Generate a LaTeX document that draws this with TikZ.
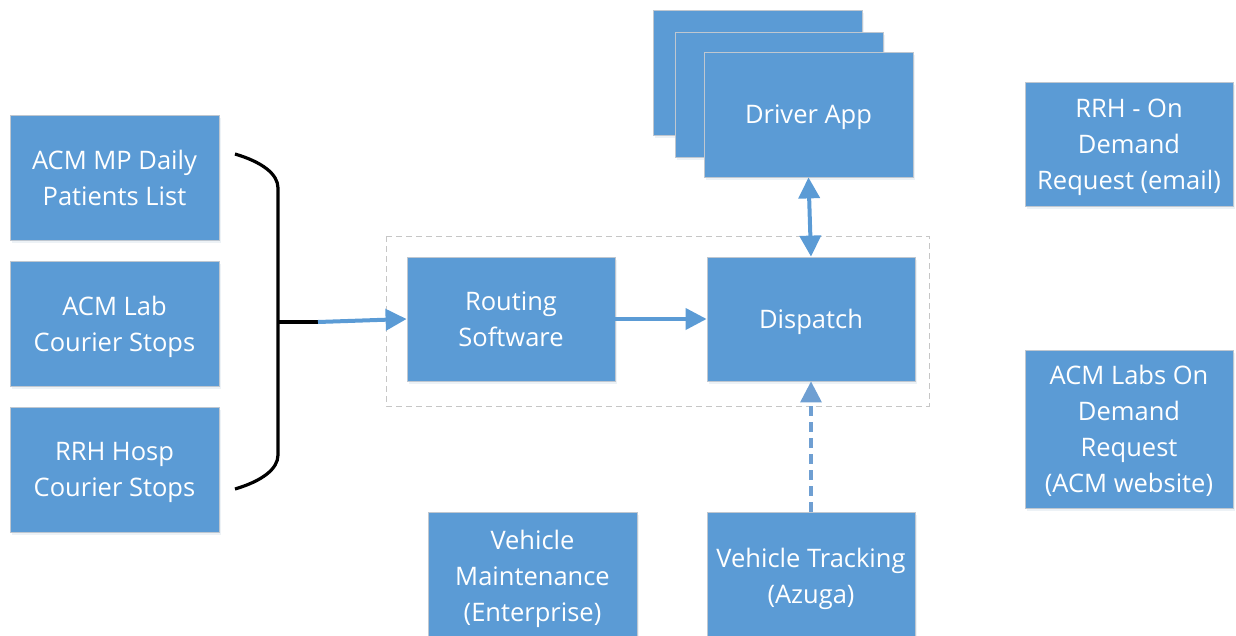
\documentclass[tikz,border=0pt]{standalone}
\usepackage{fontspec}
\setmainfont{Open Sans}
\usetikzlibrary{arrows.meta,shadows}
\definecolor{boxblue}{HTML}{5B9BD5}
\definecolor{boxedge}{HTML}{BFC7D0}
\definecolor{dashblue}{HTML}{6F9FD2}
\tikzset{
  box/.style={draw=boxedge, line width=0.8pt, fill=boxblue, text=white,
    align=center, inner sep=0pt, minimum width=209pt, minimum height=125pt,
    text depth=0pt,
    font=\fontsize{25.5}{36}\selectfont,
    drop shadow={opacity=0.12, shadow xshift=1.5pt, shadow yshift=-3pt, fill=boxblue!60!gray}},
  tip/.style={Triangle[length=21pt,width=21pt]},
  conn/.style={draw=boxblue, line width=4pt, -{Triangle[length=21pt,width=21pt]}},
  dconn/.style={draw=dashblue, line width=3.2pt, dash pattern=on 10pt off 6pt,
    -{Triangle[length=21pt,width=21pt]}},
  bracepath/.style={draw=black, line width=3.2pt},
  group/.style={draw=gray!45, line width=0.8pt, dash pattern=on 6pt off 4pt}
}
\begin{document}
\begin{tikzpicture}[x=1pt,y=-1pt]
\useasboundingbox (0,0) rectangle (1236,635);
% group box
\draw[group] (386,236) rectangle (929,406);
% left boxes
\node[box] (a1) at (114.5,177.5) {ACM MP Daily\\Patients List};
\node[box] (a2) at (114.5,323.5) {ACM Lab\\Courier Stops};
\node[box] (a3) at (114.5,469.5) {RRH Hosp\\Courier Stops};
% centre
\node[box, minimum width=208pt, minimum height=124pt] (routing) at (511,319) {Routing\\Software};
\node[box, minimum width=208pt, minimum height=124pt] (dispatch) at (811,319) {Dispatch};
% driver app stack
\node[box] (d3) at (757.5,72.5) {};
\node[box, minimum width=208pt] (d2) at (779,94.5) {};
\node[box] (d1) at (808.5,114.5) {Driver App};
% right boxes
\node[box, minimum width=208pt, minimum height=124pt] (rrh) at (1129,144) {RRH - On\\Demand\\Request (email)};
\node[box, minimum width=208pt, minimum height=158pt] (acmlabs) at (1129,429) {ACM Labs On\\Demand\\Request\\(ACM website)};
% bottom boxes
\node[box, minimum height=127pt] (vmaint) at (532.5,575.5) {Vehicle\\Maintenance\\(Enterprise)};
\node[box, minimum width=208pt, minimum height=127pt] (vtrack) at (811,575.5) {Vehicle Tracking\\(Azuga)};
% brace
\coordinate (bt) at (278,322);
\coordinate (be) at (318,322);
\draw[bracepath] (235,154) .. controls (262,162) and (278,174) .. (278,188)
  -- (278,455) .. controls (278,469) and (262,481) .. (235,489);
\draw[bracepath] (bt) -- (be);
% connectors
\draw[conn] (be) -- (routing.west);
\draw[conn] (routing.east) -- (dispatch.west);
\draw[conn, {Triangle[length=21pt,width=21pt]}-{Triangle[length=21pt,width=21pt]}] (d1.south) -- (dispatch.north);
\draw[dconn] (vtrack.north) -- (dispatch.south);
\end{tikzpicture}
\end{document}
